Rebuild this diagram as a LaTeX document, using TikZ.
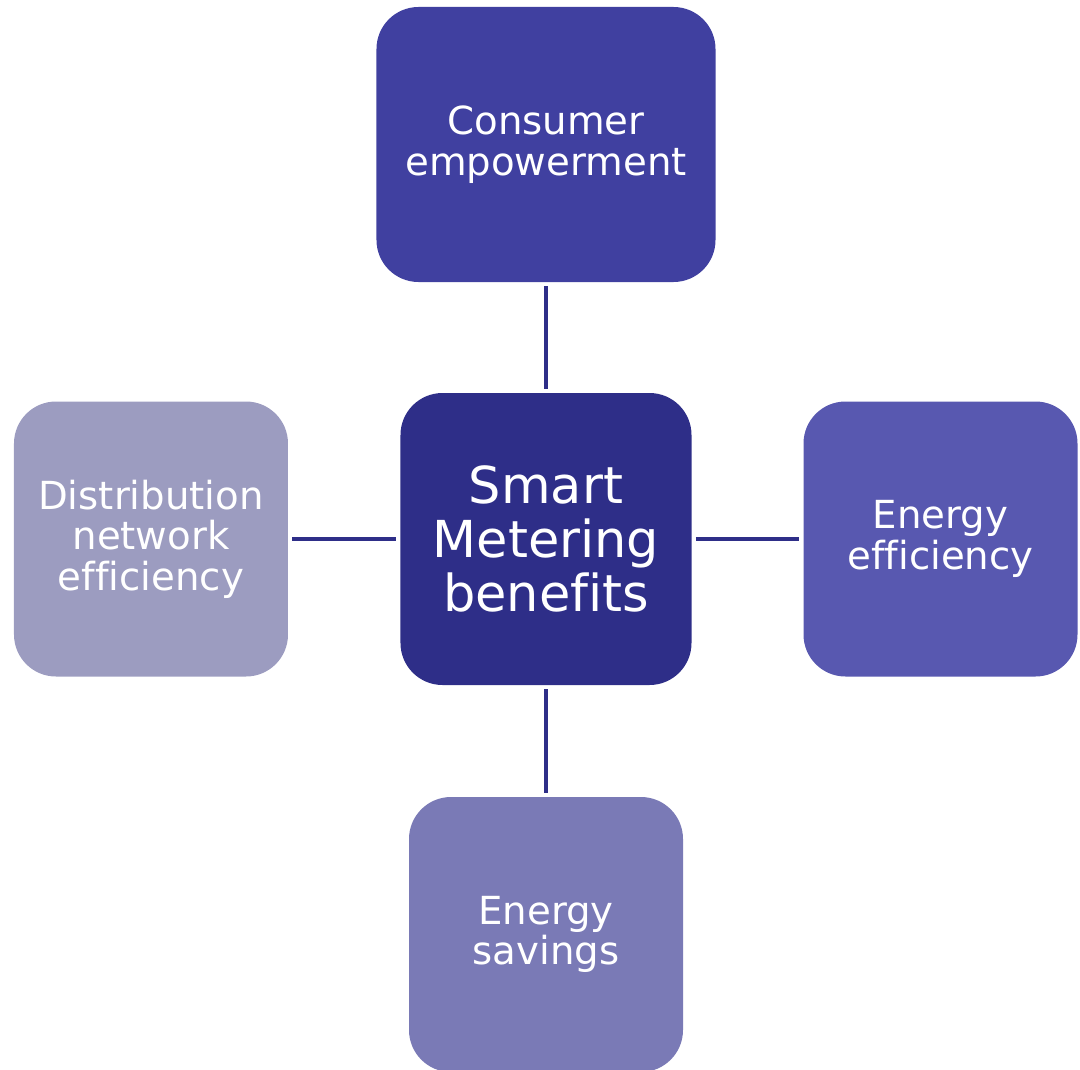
\documentclass[tikz,border=0pt]{standalone}
\usepackage{fontspec}
\setmainfont[Ligatures={NoCommon}]{DejaVu Sans}
\usepackage{tikz}
\definecolor{hubblue}{RGB}{46,46,136}
\definecolor{consblue}{RGB}{64,64,160}
\definecolor{effblue}{RGB}{88,88,176}
\definecolor{savblue}{RGB}{122,122,182}
\definecolor{distblue}{RGB}{156,156,192}

\begin{document}
\begin{tikzpicture}[
	benefit/.style={rounded corners=0.84cm, text=white, align=center, inner sep=0pt,
		minimum width=5.48cm, minimum height=5.5cm,
		font=\fontsize{22}{23}\selectfont},
	link/.style={draw=hubblue, line width=2.3pt, shorten >=0.08cm, shorten <=0.08cm}]
	\useasboundingbox (-10.92, -10.60) rectangle (10.68, 10.78);
	\node[benefit, fill=hubblue, minimum width=5.82cm, minimum height=5.84cm,
		font=\fontsize{29}{30.7}\selectfont, name=hub] at (0, 0) {Smart\\Metering\\benefits};
	\node[benefit, fill=consblue, minimum width=6.78cm, name=cons] at (0, 7.89) {Consumer\\empowerment};
	\node[benefit, fill=effblue, name=eff] at (7.89, 0) {Energy\\efficiency};
	\node[benefit, fill=distblue, name=dist] at (-7.90, 0) {Distribution\\network\\efficiency};
	\node[benefit, fill=savblue, name=sav] at (0, -7.91) {Energy\\savings};
	\draw[link] (cons) -- (hub);
	\draw[link] (hub) -- (eff);
	\draw[link] (dist) -- (hub);
	\draw[link] (hub) -- (sav);
\end{tikzpicture}
\end{document}
